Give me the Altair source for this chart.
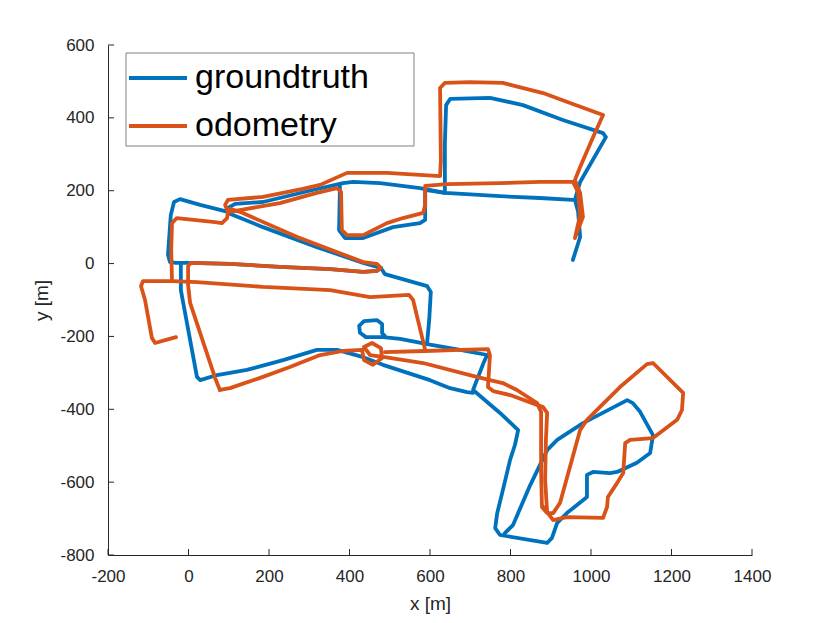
import altair as alt
import pandas as pd

# ---------------- axis ticks ----------------
x_ticks = [-200, 0, 200, 400, 600, 800, 1000, 1200, 1400]
y_ticks = [-800, -600, -400, -200, 0, 200, 400, 600]

series_names = ["groundtruth", "odometry"]
series_colors = ["#0072BD", "#D95319"]

# ---------------- groundtruth (blue) path pieces ----------------
gt_a_x = [955, 973, 968, 960, 973, 1037, 1030, 930, 831, 749, 650, 640, 637, 637, 575, 476, 409, 384, 309, 185, 116, 98]
gt_a_y = [10, 73, 142, 175, 224, 347, 358, 394, 435, 455, 452, 435, 331, 194, 207, 221, 224, 221, 202, 169, 164, 153]

gt_b_x = [98, 29, -21, -36, -44, -51, -46, -31, 6, 103, 227, 352, 434, 468, 478]
gt_b_y = [142, 161, 177, 169, 133, 24, 4, 2, 2, -1, -9, -15, -23, -20, -12]

gt_c_x = [478, 434, 319, 185, 98]
gt_c_y = [-12, 2, 45, 100, 139]

gt_d_x = [376, 376, 374, 389, 434, 508, 575, 588, 588, 637, 774, 873, 955]
gt_d_y = [213, 196, 92, 70, 70, 100, 111, 120, 202, 194, 185, 180, 175]

gt_e_x = [478, 488, 593, 602, 598, 593]
gt_e_y = [-12, -29, -62, -78, -155, -215]

gt_f_x = [488, 481, 481, 468, 436, 424, 426, 441, 483, 526, 593, 675, 742, 734, 707, 774, 819, 811, 799, 781,
          767, 762, 774, 891, 903, 916, 940, 990, 990, 1005, 1047, 1065, 1114, 1147, 1154, 1122, 1104, 1090, 980, 916,
          891, 849, 806, 786]
gt_f_y = [-199, -191, -166, -155, -158, -171, -190, -202, -202, -207, -221, -237, -251, -270, -347, -410, -457, -498, -539, -622,
          -685, -726, -745, -767, -753, -712, -685, -641, -580, -572, -575, -572, -547, -520, -471, -407, -383, -375, -438, -484,
          -512, -608, -718, -740]

gt_g_x = [-19, -19, 21, 29, 71, 145, 235, 319, 369, 434, 483, 600, 650, 692, 707]
gt_g_y = [-1, -73, -311, -320, -306, -292, -265, -237, -237, -257, -278, -320, -342, -353, -355]

# ---------------- odometry (orange) path pieces ----------------
od_a_x = [-31, -58, -83, -91, -108, -118, -113, -41, 21, 185, 352, 451, 548, 558, 573, 588]
od_a_y = [-202, -210, -218, -204, -100, -62, -48, -48, -51, -64, -73, -92, -86, -100, -169, -237]

od_b_x = [-41, -43, -41, -29, 66, 83, 96, 98, 91, 98, 185, 284, 327, 394, 493, 625, 627, 625, 637, 699,
          781, 881, 948, 1030, 1005, 973, 960, 973, 980, 960, 973, 968, 955]
od_b_y = [-48, 37, 111, 125, 114, 111, 125, 142, 161, 175, 183, 205, 216, 249, 249, 240, 284, 482, 496, 498,
          496, 468, 441, 408, 347, 265, 229, 194, 128, 70, 133, 196, 224]

od_c_x = [78, 66, 4, -1, -1, 6, 103, 227, 352, 434, 468, 478, 468, 434, 270, 128, 103]
od_c_y = [-347, -314, -108, -59, -7, 2, -1, -9, -15, -23, -20, -12, -1, 4, 73, 142, 150]

od_d_x = [103, 227, 319, 369, 379, 381, 394, 434, 493, 533, 583, 588, 588, 642, 774, 873, 955]
od_d_y = [142, 166, 194, 207, 197, 92, 78, 78, 111, 125, 139, 161, 213, 218, 221, 224, 224]

od_e_x = [78, 103, 185, 252, 327, 384, 431, 436, 458, 481, 478, 456, 436, 451, 488, 583, 699, 749, 781, 816,
          866, 876, 876, 878, 891, 906, 940, 1030, 1040, 1042, 1065, 1080, 1085, 1097, 1154, 1214, 1226, 1229, 1154, 1139,
          1072, 990, 973, 923, 906, 891, 878]
od_e_y = [-347, -342, -311, -284, -251, -240, -237, -265, -278, -259, -232, -218, -229, -251, -257, -273, -306, -320, -328, -347,
          -383, -407, -567, -663, -682, -704, -696, -698, -668, -641, -602, -575, -493, -484, -479, -429, -402, -355, -273, -276,
          -339, -429, -457, -657, -685, -685, -668]

od_f_x = [488, 588, 675, 744, 749, 744, 757, 799, 881, 891, 888, 886, 891]
od_f_y = [-243, -240, -237, -235, -251, -339, -350, -361, -394, -410, -484, -594, -682]

gt_pieces = [(gt_a_x, gt_a_y), (gt_b_x, gt_b_y), (gt_c_x, gt_c_y), (gt_d_x, gt_d_y),
             (gt_e_x, gt_e_y), (gt_f_x, gt_f_y), (gt_g_x, gt_g_y)]
od_pieces = [(od_a_x, od_a_y), (od_b_x, od_b_y), (od_c_x, od_c_y), (od_d_x, od_d_y),
             (od_e_x, od_e_y), (od_f_x, od_f_y)]


def build(name, pieces):
    rows = []
    for k, (xs, ys) in enumerate(pieces):
        for i, (xv, yv) in enumerate(zip(xs, ys)):
            rows.append({"series": name, "seg": f"{name}-{k}", "i": i, "x": xv, "y": yv})
    return pd.DataFrame(rows)


gt_df = build("groundtruth", gt_pieces)
od_df = build("odometry", od_pieces)

FONT = "Liberation Sans"
AX = "#262626"

xscale = alt.Scale(domain=[-200, 1400], nice=False, zero=False)
yscale = alt.Scale(domain=[-800, 600], nice=False, zero=False)
cscale = alt.Scale(domain=series_names, range=series_colors)

xaxis = alt.Axis(values=x_ticks, title="x [m]", grid=False, ticks=False, domainColor=AX,
                 labelColor=AX, labelFontSize=17, labelPadding=13, labelFont=FONT, labelFlush=False,
                 titleFont=FONT, titleFontSize=19, titleFontWeight="normal", titleColor=AX, titlePadding=10,
                 labelExpr="toString(datum.value)")
yaxis = alt.Axis(values=y_ticks, title="y [m]", grid=False, ticks=False, domainColor=AX,
                 labelColor=AX, labelFontSize=17, labelPadding=14, labelFont=FONT, labelFlush=False,
                 titleFont=FONT, titleFontSize=19, titleFontWeight="normal", titleColor=AX, titlePadding=8,
                 labelExpr="toString(datum.value)")

legend = alt.Legend(title=None, orient="none", legendX=18, legendY=1, symbolType="stroke",
                    symbolSize=3364, symbolStrokeWidth=4, labelFontSize=34, labelFont=FONT,
                    labelColor="black", padding=1, labelOffset=6, rowPadding=0, labelLimit=600)


def line_layer(df):
    return alt.Chart(df).mark_line(strokeWidth=3.8, strokeCap="round", strokeJoin="round").encode(
        x=alt.X("x:Q", scale=xscale, axis=xaxis),
        y=alt.Y("y:Q", scale=yscale, axis=yaxis),
        color=alt.Color("series:N", scale=cscale, legend=legend),
        detail="seg:N",
        order=alt.Order("i:Q"),
    )


xt_df = pd.DataFrame({"x": x_ticks})
yt_df = pd.DataFrame({"y": y_ticks})

xtick_layer = alt.Chart(xt_df).mark_rule(color=AX, strokeWidth=1).encode(
    x=alt.X("x:Q", scale=xscale, axis=xaxis), y=alt.value(510), y2=alt.value(504))
ytick_layer = alt.Chart(yt_df).mark_rule(color=AX, strokeWidth=1).encode(
    y=alt.Y("y:Q", scale=yscale, axis=yaxis), x=alt.value(0), x2=alt.value(6))

# legend frame (white box with thin grey border, as in the reference)
legend_box = alt.Chart(pd.DataFrame({"k": [0]})).mark_rect(
    fill="white", stroke="#808080", strokeWidth=1).encode(
    x=alt.value(18), x2=alt.value(306), y=alt.value(8), y2=alt.value(101))

chart = alt.layer(line_layer(gt_df), line_layer(od_df), xtick_layer, ytick_layer, legend_box).properties(
    width=644, height=510,
    autosize=alt.AutoSizeParams(type="none"),
    padding={"left": 100, "top": 37, "right": 70, "bottom": 60},
    background="white",
).configure_view(stroke=None)

chart.save("out.html", embed_options={"renderer": "svg", "actions": False})
